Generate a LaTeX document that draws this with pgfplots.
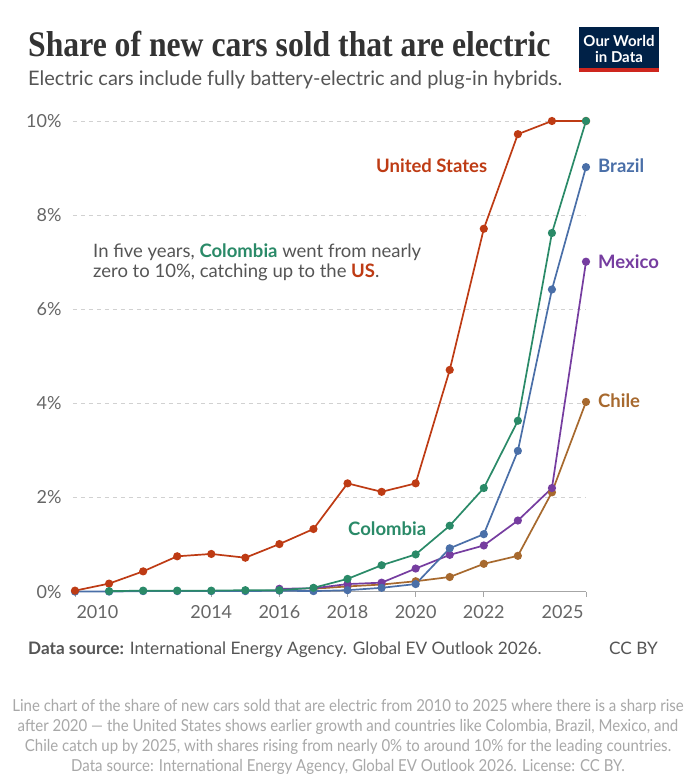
\documentclass[border=0pt]{standalone}
\usepackage{fontspec}
\usepackage{pgfplots}
\pgfplotsset{compat=1.18}
\setmainfont{Lato}
\newfontfamily\titlefont{Liberation Serif}[FakeStretch=0.88]
\newfontfamily\descfont{Lato}[FakeStretch=0.91]
\definecolor{us}{HTML}{BE3B14}
\definecolor{col}{HTML}{2A8A68}
\definecolor{bra}{HTML}{4A6FA8}
\definecolor{mex}{HTML}{763DA0}
\definecolor{chi}{HTML}{A7692E}
\definecolor{navy}{HTML}{002147}
\definecolor{owidred}{HTML}{CE261E}
\definecolor{ttl}{HTML}{333333}
\definecolor{sub}{HTML}{555555}
\definecolor{tick}{HTML}{666666}
\definecolor{desc}{HTML}{A8A8A8}
\begin{document}
\begin{tikzpicture}[x=1pt,y=1pt]
\fill[white] (0,0) rectangle (696,776);
\path[use as bounding box] (0,0) rectangle (696,776);
\begin{axis}[
  at={(72.96pt,184.4pt)}, anchor=south west,
  scale only axis, width=513.04pt, height=470.6pt,
  xmin=2009.94, xmax=2025, ymin=0, ymax=10,
  clip=false,
  axis x line*=bottom, axis y line*=left,
  x axis line style={draw=black!35, line width=0.8pt, -},
  y axis line style={draw=none},
  xtick={2010,2014,2016,2018,2020,2022,2025},
  xticklabels={\makebox[0pt][l]{\hspace{1.5pt}2010},2014,2016,2018,2020,2022,\makebox[0pt][r]{2025\hspace{2.5pt}}},
  xtick style={draw=black!35, line width=0.8pt},
  tick align=outside, major tick length=5pt,
  ytick={0,2,4,6,8,10},
  yticklabels={0\%,2\%,4\%,6\%,8\%,10\%},
  ytick style={draw=none},
  ymajorgrids,
  grid style={draw=black!18, dash pattern=on 4pt off 4pt, line width=0.8pt},
  tick label style={font=\fontsize{18}{21}\selectfont, text=tick},
  yticklabel style={anchor=east, inner sep=0pt, xshift=-6.3pt},
  xticklabel style={anchor=north, inner sep=0pt, yshift=-9pt},
  every axis plot/.append style={line width=1.7pt, mark=*, mark size=3.2pt, mark options={solid}},
]
\addplot[chi] coordinates {(2017,0.06)(2018,0.11)(2019,0.15)(2020,0.22)(2021,0.31)(2022,0.59)(2023,0.76)(2024,2.11)(2025,4.03)};
\addplot[mex] coordinates {(2016,0.06)(2017,0.07)(2018,0.16)(2019,0.19)(2020,0.49)(2021,0.78)(2022,0.98)(2023,1.51)(2024,2.20)(2025,7.01)};
\addplot[bra] coordinates {(2010,0.0)(2011,0.0)(2012,0.01)(2013,0.01)(2014,0.01)(2015,0.01)(2016,0.02)(2017,0.01)(2018,0.03)(2019,0.08)(2020,0.16)(2021,0.92)(2022,1.22)(2023,2.99)(2024,6.42)(2025,9.02)};
\addplot[us] coordinates {(2010,0.02)(2011,0.17)(2012,0.43)(2013,0.75)(2014,0.80)(2015,0.72)(2016,1.01)(2017,1.33)(2018,2.30)(2019,2.12)(2020,2.30)(2021,4.71)(2022,7.71)(2023,9.72)(2024,10.0)(2025,10.0)};
\addplot[col] coordinates {(2011,0.01)(2012,0.02)(2013,0.02)(2014,0.02)(2015,0.03)(2016,0.03)(2017,0.08)(2018,0.27)(2019,0.56)(2020,0.79)(2021,1.40)(2022,2.20)(2023,3.63)(2024,7.62)(2025,10.0)};
\end{axis}
% title and subtitle
\node[anchor=base west, inner sep=0pt, text=ttl, font=\titlefont\bfseries\fontsize{36}{40}\selectfont] at (28,719) {Share of new cars sold that are electric};
\node[anchor=base west, inner sep=0pt, text=sub, font=\fontsize{20}{23}\selectfont] at (28,690) {Electric cars include fully battery-electric and plug-in hybrids.};
% logo
\fill[navy] (579,704) rectangle (659,749);
\fill[owidred] (579,704) rectangle (659,707.5);
\node[text=white, font=\bfseries\fontsize{15}{17}\selectfont, inner sep=0pt] at (619,735) {Our World};
\node[text=white, font=\bfseries\fontsize{15}{17}\selectfont, inner sep=0pt] at (619,718.5) {in Data};
% series labels
\begin{scope}[every node/.style={anchor=west, inner sep=0pt, font=\bfseries\fontsize{18.5}{21}\selectfont}]
\node[text=us] at (376,610) {United States};
\node[text=bra] at (598,610) {Brazil};
\node[text=mex] at (598,514) {Mexico};
\node[text=chi] at (598,375) {Chile};
\node[text=col] at (348,247) {Colombia};
\end{scope}
% annotation
\node[anchor=base west, inner sep=0pt, text=sub, font=\fontsize{18.5}{21}\selectfont] at (93,518) {In five years, \textcolor{col}{\bfseries Colombia} went from nearly};
\node[anchor=base west, inner sep=0pt, text=sub, font=\fontsize{18.5}{21}\selectfont] at (93,498) {zero to 10\%, catching up to the \textcolor{us}{\bfseries US}.};
% footer
\node[anchor=base west, inner sep=0pt, text=sub, font=\fontsize{17.2}{20}\selectfont] at (28,121) {\textbf{Data source:} International Energy Agency. Global EV Outlook 2026.};
\node[anchor=base east, inner sep=0pt, text=sub, font=\fontsize{17.2}{20}\selectfont] at (658,121) {CC BY};
% description
\begin{scope}[every node/.style={anchor=base, inner sep=0pt, text=desc, font=\descfont\fontsize{16.5}{19}\selectfont}]
\node at (348,64) {Line chart of the share of new cars sold that are electric from 2010 to 2025 where there is a sharp rise};
\node at (348,44) {after 2020 — the United States shows earlier growth and countries like Colombia, Brazil, Mexico, and};
\node at (348,24) {Chile catch up by 2025, with shares rising from nearly 0\% to around 10\% for the leading countries.};
\node at (348,4.5) {Data source: International Energy Agency, Global EV Outlook 2026. License: CC BY.};
\end{scope}
\end{tikzpicture}
\end{document}
